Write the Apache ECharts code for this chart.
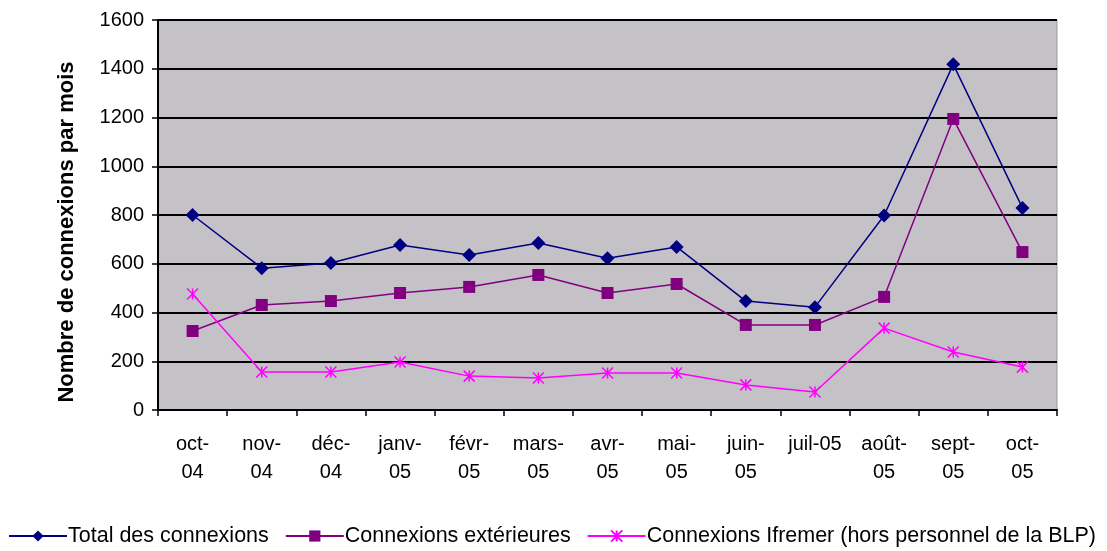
<!DOCTYPE html>
<html>
<head>
<meta charset="utf-8">
<script src="https://cdn.jsdelivr.net/npm/echarts@6/dist/echarts.min.js"></script>
<style>
  html, body { margin: 0; padding: 0; background: #fff; }
  #chart { width: 1107px; height: 551px; }
</style>
</head>
<body>
<div id="chart"></div>
<script>
// mois (libellés sur deux lignes comme dans Excel)
const months = ['oct-\n04', 'nov-\n04', 'déc-\n04', 'janv-\n05', 'févr-\n05', 'mars-\n05', 'avr-\n05',
                'mai-\n05', 'juin-\n05', 'juil-05', 'août-\n05', 'sept-\n05', 'oct-\n05'];
const totalConnexions = [800, 582, 603, 677, 636, 685, 623, 669, 447, 422, 798, 1418, 829];
const connexionsExt = [324, 431, 447, 480, 505, 554, 480, 517, 349, 349, 464, 1194, 648];
const connexionsIfremer = [476, 156, 156, 197, 139, 131, 152, 152, 103, 74, 336, 238, 176];

const font = 'Liberation Sans, Arial, sans-serif';

const chart = echarts.init(document.getElementById('chart'));

const option = {
    animation: false,
    backgroundColor: '#fff',
    grid: {
        left: 158,
        right: 50,
        top: 20,
        bottom: 141,
        show: true,
        backgroundColor: '#c4c2c6',
        borderColor: '#9a9a9a',
        borderWidth: 1,
    },
    legend: {
        bottom: 4,
        left: 8,
        width: 1099,
        padding: 0,
        itemWidth: 58,
        itemHeight: 14,
        itemGap: 16,
        textStyle: {
            fontFamily: font,
            fontSize: 21.5,
            color: '#000',
            padding: [0, 0, 0, -4],
        },
        data: ['Total des connexions', 'Connexions extérieures', 'Connexions Ifremer (hors personnel de la BLP)'],
    },
    xAxis: {
        type: 'category',
        data: months,
        boundaryGap: true,
        axisLine: { lineStyle: { color: '#000', width: 2 } },
        axisTick: { show: true, length: 6, lineStyle: { color: '#000', width: 1.5 } },
        axisLabel: {
            fontFamily: font,
            fontSize: 20,
            color: '#000',
            lineHeight: 28,
            margin: 20,
            interval: 0,
        },
    },
    yAxis: {
        type: 'value',
        min: 0,
        max: 1600,
        interval: 200,
        name: 'Nombre de connexions par mois',
        nameLocation: 'middle',
        nameGap: 80,
        nameTextStyle: {
            fontFamily: font,
            fontSize: 22,
            fontWeight: 'bold',
            color: '#000',
            padding: [0, 34, 0, 0],
        },
        axisLine: { show: true, lineStyle: { color: '#000', width: 2 } },
        axisTick: { show: true, length: 6, lineStyle: { color: '#000', width: 1.5 } },
        axisLabel: {
            fontFamily: font,
            fontSize: 20,
            color: '#000',
            margin: 14,
            formatter: function (v) { return String(v); },
        },
        splitLine: { show: true, lineStyle: { color: '#000', width: 2 } },
    },
    series: [
        {
            name: 'Total des connexions',
            type: 'line',
            data: totalConnexions,
            symbol: 'diamond',
            symbolSize: 14,
            color: '#000080',
            lineStyle: { width: 1.5, color: '#000080' },
            itemStyle: { color: '#000080' },
        },
        {
            name: 'Connexions extérieures',
            type: 'line',
            data: connexionsExt,
            symbol: 'rect',
            symbolSize: 12,
            color: '#800080',
            lineStyle: { width: 1.5, color: '#800080' },
            itemStyle: { color: '#800080' },
        },
        {
            name: 'Connexions Ifremer (hors personnel de la BLP)',
            type: 'line',
            data: connexionsIfremer,
            symbol: 'path://M0,0 L10,10 M10,0 L0,10 M5,0 L5,10',
            symbolSize: 11,
            color: '#ff00ff',
            lineStyle: { width: 1.5, color: '#ff00ff' },
            itemStyle: { color: 'none', borderColor: '#ff00ff', borderWidth: 1.5 },
        },
    ],
};

chart.setOption(option);
</script>
</body>
</html>
